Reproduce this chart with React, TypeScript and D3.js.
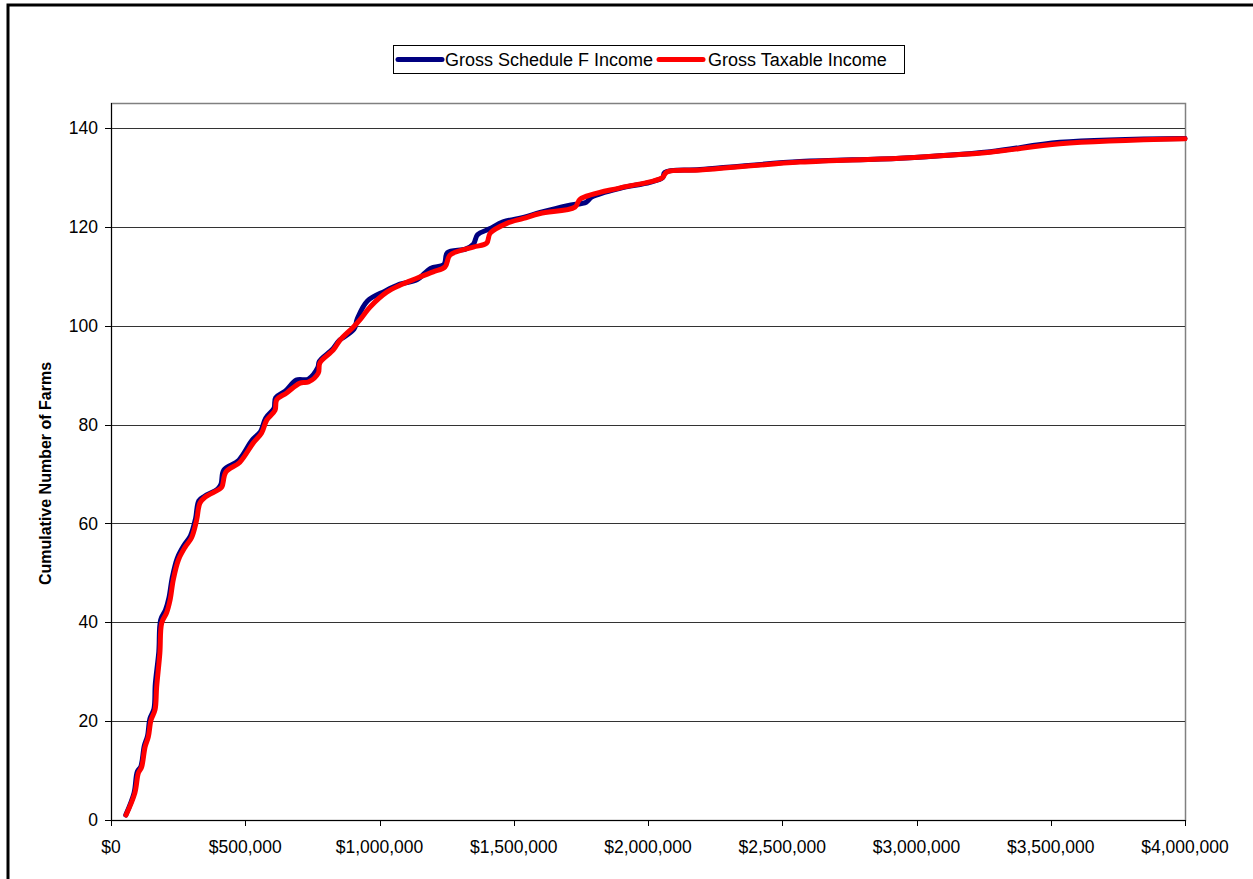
import React, { useRef, useEffect } from 'react';
import * as d3 from 'd3';

// values
const scheduleFIncome = [55000, 86000, 98000, 111000, 124000, 136000, 145000, 160000, 165000, 178000, 185000, 203000, 216000, 228000, 247000, 272000, 296000, 315000, 327000, 348000, 398000, 410000, 420000, 476000, 525000, 557000, 576000, 607000, 613000, 650000, 690000, 735000, 770000, 776000, 826000, 850000, 905000, 918000, 955000, 1020000, 1076000, 1139000, 1190000, 1240000, 1253000, 1320000, 1350000, 1365000, 1410000, 1460000, 1536000, 1598000, 1700000, 1770000, 1790000, 1896000, 2007000, 2055000, 2062000, 2194000, 2566000, 2939000, 3274000, 3534000, 4000000];
const scheduleFFarms = [1, 5.5, 9.8, 10.8, 15, 17, 20.5, 22.5, 27.5, 34, 40.5, 42.5, 45, 49, 53, 55.6, 57.5, 61, 64.6, 65.5, 67, 68, 70.8, 72.8, 76.8, 78.6, 81.3, 83.3, 85.4, 86.8, 89, 89.2, 91.5, 92.8, 95.3, 97, 99.3, 101.5, 105, 107, 108.4, 109.3, 111.6, 112.4, 114.8, 115.5, 116.5, 118.4, 119.6, 121, 121.9, 122.9, 124.3, 125, 126, 127.8, 129, 130, 131, 131.6, 133.2, 133.9, 135.2, 137.1, 137.9];

const taxableIncome = [56000, 89000, 102000, 114000, 127000, 139000, 149000, 164000, 170000, 182000, 189000, 207000, 220000, 232000, 251000, 276000, 300000, 319000, 331000, 350000, 400000, 413000, 428000, 480000, 530000, 561000, 580000, 611000, 617000, 654000, 704000, 735000, 772000, 778000, 828000, 853000, 902000, 927000, 965000, 1027000, 1076000, 1139000, 1200000, 1244000, 1263000, 1349000, 1399000, 1412000, 1474000, 1536000, 1598000, 1728000, 1747000, 1896000, 2007000, 2052000, 2071000, 2194000, 2566000, 2939000, 3274000, 3534000, 4000000];
const taxableFarms = [1, 5.5, 9.5, 10.7, 14.8, 16.8, 20.2, 22.3, 26.9, 33.8, 39.9, 41.9, 44.5, 48.6, 52.6, 55.2, 57.1, 60.7, 64.1, 65.3, 66.8, 67.4, 70.4, 72.4, 76.3, 78.3, 80.9, 82.9, 85, 86.4, 88.4, 88.6, 90.4, 92.5, 95.1, 97.1, 99.7, 101.2, 103.8, 106.8, 108.2, 109.6, 110.9, 111.9, 114.3, 115.9, 116.7, 118.7, 120.7, 121.7, 122.7, 124, 125.6, 127.9, 129.1, 129.9, 131.1, 131.5, 133.1, 133.9, 135.1, 136.8, 137.8];

const incomeTicks = [0, 500000, 1000000, 1500000, 2000000, 2500000, 3000000, 3500000, 4000000];
const farmTicks = [0, 20, 40, 60, 80, 100, 120, 140];

const seriesNames = ['Gross Schedule F Income', 'Gross Taxable Income'];
const seriesColors = ['#000080', '#ff0000'];

const W = 1253;
const H = 879;
const FONT = '"Liberation Sans", Arial, sans-serif';

const App = () => {
  const svgRef = useRef<SVGSVGElement>(null);

  useEffect(() => {
    const left = 111, right = 1185, top = 103, bottom = 820;

    const svg = d3.select(svgRef.current);
    svg.selectAll('*').remove();

    const x = d3.scaleLinear().domain([0, 4000000]).range([left, right]);
    const y = d3.scaleLinear().domain([0, 140]).range([bottom, 128]);

    // outer chart border (only left/top visible)
    svg.append('rect')
      .attr('x', 8).attr('y', 5)
      .attr('width', W + 20).attr('height', H + 20)
      .attr('fill', 'white')
      .attr('stroke', 'black')
      .attr('stroke-width', 3);

    // plot frame
    svg.append('rect')
      .attr('x', left + 0.5).attr('y', top + 0.5)
      .attr('width', right - left).attr('height', bottom - top)
      .attr('fill', 'none')
      .attr('stroke', '#808080')
      .attr('stroke-width', 1.5);

    // gridlines
    svg.append('g')
      .selectAll('line')
      .data(farmTicks.filter(d => d > 0))
      .enter()
      .append('line')
      .attr('x1', left).attr('x2', right)
      .attr('y1', d => Math.round(y(d)) + 0.5)
      .attr('y2', d => Math.round(y(d)) + 0.5)
      .attr('stroke', '#333')
      .attr('stroke-width', 1);

    // y axis
    const yAxis = svg.append('g');
    yAxis.append('line')
      .attr('x1', left + 0.5).attr('x2', left + 0.5)
      .attr('y1', top).attr('y2', bottom)
      .attr('stroke', 'black');
    const yt = yAxis.selectAll('.yt').data(farmTicks).enter().append('g');
    yt.append('line')
      .attr('x1', left - 6).attr('x2', left)
      .attr('y1', d => Math.round(y(d)) + 0.5)
      .attr('y2', d => Math.round(y(d)) + 0.5)
      .attr('stroke', 'black');
    yt.append('text')
      .attr('x', left - 13)
      .attr('y', d => y(d))
      .attr('dy', '0.35em')
      .attr('text-anchor', 'end')
      .style('font-family', FONT)
      .style('font-size', '17.5px')
      .text(d => d);

    // x axis
    const xAxis = svg.append('g');
    xAxis.append('line')
      .attr('x1', left).attr('x2', right)
      .attr('y1', bottom + 0.5).attr('y2', bottom + 0.5)
      .attr('stroke', 'black');
    const xt = xAxis.selectAll('.xt').data(incomeTicks).enter().append('g');
    xt.append('line')
      .attr('x1', d => Math.round(x(d)) + 0.5)
      .attr('x2', d => Math.round(x(d)) + 0.5)
      .attr('y1', bottom).attr('y2', bottom + 6)
      .attr('stroke', 'black');
    xt.append('text')
      .attr('x', d => x(d))
      .attr('y', bottom + 33)
      .attr('text-anchor', 'middle')
      .style('font-family', FONT)
      .style('font-size', '17.5px')
      .text(d => '$' + d3.format(',')(d));

    svg.append('text')
      .attr('transform', `translate(51,${(top + bottom) / 2 + 12}) rotate(-90)`)
      .attr('text-anchor', 'middle')
      .style('font-family', FONT)
      .style('font-size', '16px')
      .style('font-weight', 'bold')
      .text('Cumulative Number of Farms');

    // lines
    const line = d3.line<[number, number]>()
      .x(d => x(d[0]))
      .y(d => y(d[1]))
      .curve(d3.curveCatmullRom.alpha(0.5));

    const series = [
      scheduleFIncome.map((v, i) => [v, scheduleFFarms[i]] as [number, number]),
      taxableIncome.map((v, i) => [v, taxableFarms[i]] as [number, number]),
    ];

    svg.append('g')
      .selectAll('path')
      .data(series)
      .enter()
      .append('path')
      .attr('d', d => line(d))
      .attr('fill', 'none')
      .attr('stroke', (d, i) => seriesColors[i])
      .attr('stroke-width', 5)
      .attr('stroke-linecap', 'round')
      .attr('stroke-linejoin', 'round');

    // legend
    const legend = svg.append('g');
    legend.append('rect')
      .attr('x', 393.5).attr('y', 45.5)
      .attr('width', 511).attr('height', 28)
      .attr('fill', 'white')
      .attr('stroke', 'black');
    const items = [
      { sx: 398, tx: 445 },
      { sx: 659, tx: 708 },
    ];
    items.forEach((it, i) => {
      legend.append('line')
        .attr('x1', it.sx).attr('x2', it.sx + 44)
        .attr('y1', 59.5).attr('y2', 59.5)
        .attr('stroke', seriesColors[i])
        .attr('stroke-width', 5)
        .attr('stroke-linecap', 'round');
      legend.append('text')
        .attr('x', it.tx).attr('y', 59.5)
        .attr('dy', '0.35em')
        .style('font-family', FONT)
        .style('font-size', '18px')
        .text(seriesNames[i]);
    });
  }, []);

  return (
    <svg
      ref={svgRef}
      width={W}
      height={H}
      style={{ position: 'absolute', left: 0, top: 0, background: 'white' }}
    />
  );
};

export default App;
